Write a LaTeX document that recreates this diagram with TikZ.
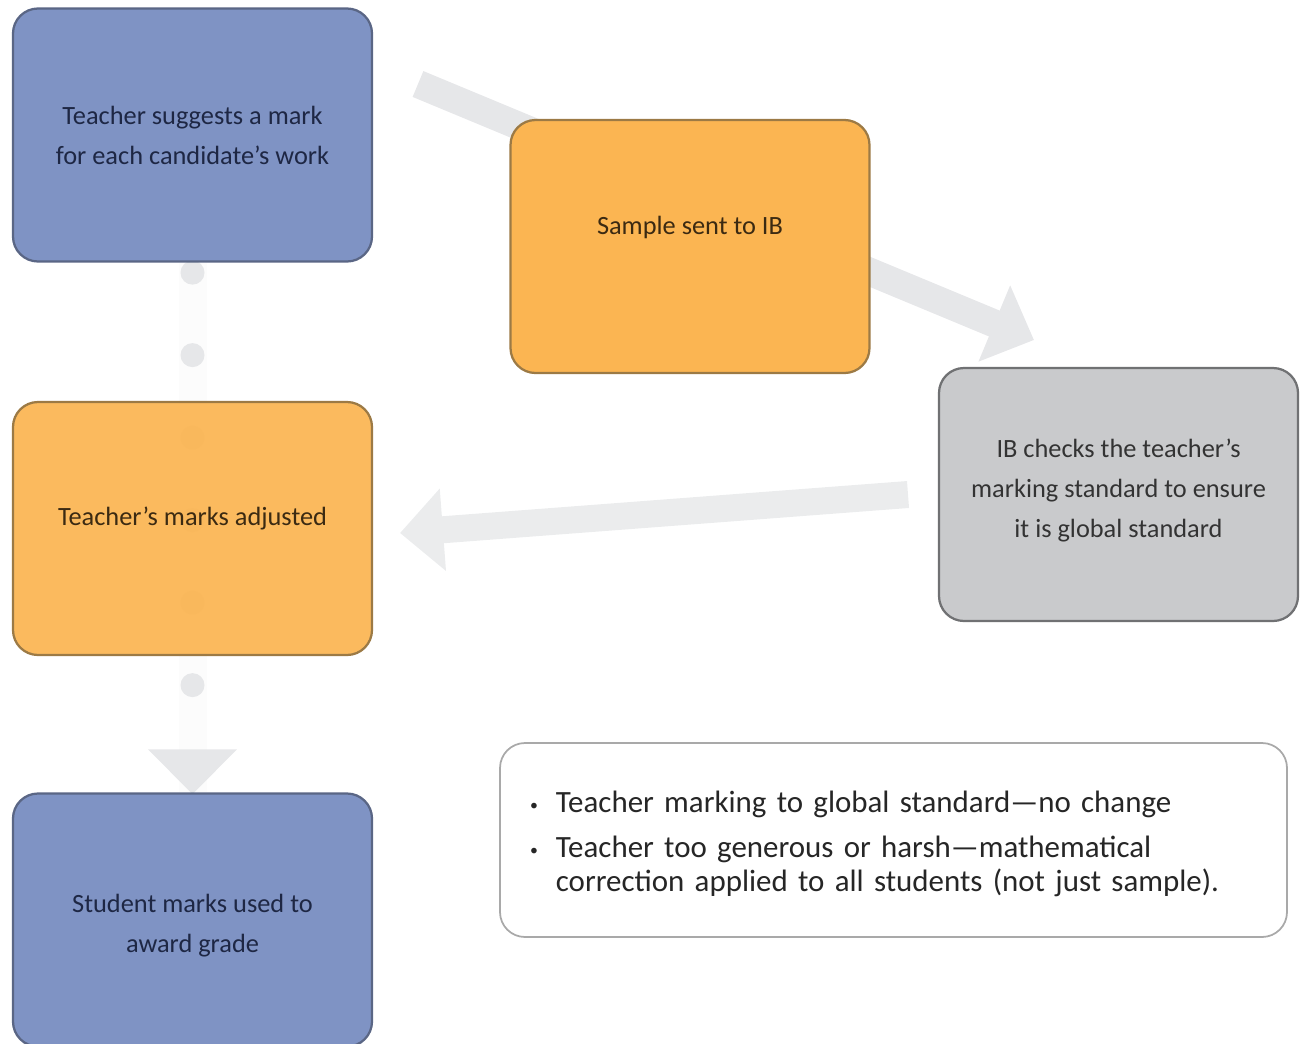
\documentclass[tikz,border=0pt]{standalone}
\usepackage{fontspec}
\setmainfont{Carlito}
\usepackage{tikz}
\usetikzlibrary{arrows.meta,positioning,backgrounds}
\definecolor{ibblue}{HTML}{7F93C4}
\definecolor{ibblueline}{HTML}{5A6685}
\definecolor{ibbluetext}{HTML}{1E2744}
\definecolor{iborange}{HTML}{FBB552}
\definecolor{iborangeline}{HTML}{9C7A45}
\definecolor{iborangetext}{HTML}{3B2A12}
\definecolor{ibgrey}{HTML}{C9CACC}
\definecolor{ibgreyline}{HTML}{707173}
\definecolor{ibarrow}{HTML}{E6E7E9}
\definecolor{ibnote}{HTML}{A9A9A9}
\newcommand{\notebullet}{\raisebox{0.4mm}{\small\textbullet}}
\tikzset{
  stepbox/.style={rectangle, rounded corners=5mm, minimum width=71.8mm, minimum height=50.6mm, align=center, line width=0.45mm, font=\fontsize{15}{22.8}\selectfont},
  bluebox/.style={stepbox, draw=ibblueline, fill=ibblue, text=ibbluetext},
  orangebox/.style={stepbox, draw=iborangeline, fill=iborange, text=iborangetext},
  greybox/.style={stepbox, draw=ibgreyline, fill=ibgrey, text=black!80},
  notebox/.style={rectangle, rounded corners=5mm, draw=ibnote, line width=0.35mm, fill=white, minimum height=38.8mm, text width=145.4mm, inner xsep=6mm, align=left, font=\fontsize{17.6}{19}\selectfont, text=black!85},
  fatflow/.style={draw=ibarrow, line width=5.6mm, -{Triangle[length=8.6mm,width=16mm]}},
  dotflow/.style={draw=ibarrow, line width=4.8mm, line cap=round, dash pattern=on 0pt off 16.5mm, dash phase=14.5mm, -{Triangle[length=9mm,width=17.2mm,line cap=butt]}},
}
\begin{document}
\begin{tikzpicture}[x=0.2mm,y=-0.2mm]
  \useasboundingbox (0,0) rectangle (1301,1043);
  \clip (0,0) rectangle (1301,1043);
  \node[bluebox] (suggest) at (192.5,135) {Teacher suggests a mark\\for each candidate's work};
  \node[orangebox] (sample) at (690,246.5) {\raisebox{8.4mm}{Sample sent to IB}};
  \node[greybox] (check) at (1118.5,494.5) {IB checks the teacher's\\marking standard to ensure\\it is global standard\\[-5.6mm]\mbox{}};
  \node[orangebox, fill opacity=0.93, text opacity=1] (adjust) at (192.5,528.5) {\raisebox{5mm}{Teacher's marks adjusted}};
  \node[bluebox] (award) at (192.5,920) {\mbox{}\\[-2mm]Student marks used to\\award grade};
  \node[notebox] (outcome) at (893.5,840) {\raisebox{0pt}[\dimexpr\height+2mm][\depth]{%
    \begin{tabular}{@{}c@{\hspace{3.6mm}}l@{}}
      \notebullet & Teacher marking to global standard---no change\\[2.4mm]
      \notebullet & Teacher too generous or harsh---mathematical\\
                  & correction applied to all students (not just sample).
    \end{tabular}}};
  \coordinate (sendfrom) at (418,84);
  \coordinate (sendto) at (1034,340);
  \coordinate (backfrom) at (908,497);
  \coordinate (backto) at (400,533);
  \begin{scope}[on background layer]
    \draw[fatflow] (sendfrom) -- (sendto);
    \draw[fatflow, draw=ibarrow!80!white, line width=5.4mm] (check.west -| backfrom) -- (backto);
    \draw[draw=black!1.2, line width=5.6mm] (suggest.south) -- (award.north);
    \draw[dotflow] (suggest.south) -- ([yshift=-0.4mm]award.north);
  \end{scope}
\end{tikzpicture}
\end{document}
